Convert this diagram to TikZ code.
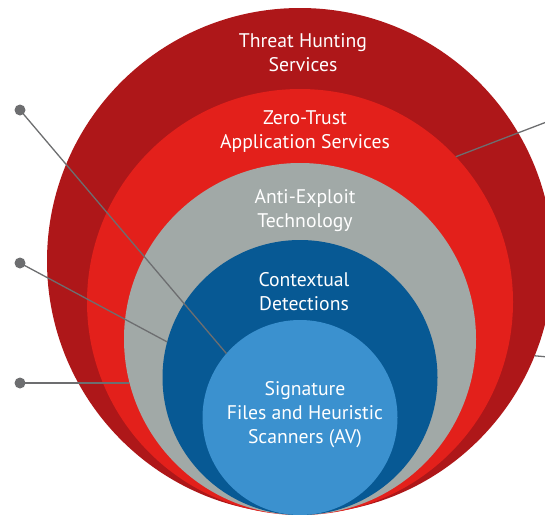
\documentclass[tikz,border=0pt]{standalone}
\usepackage{fontspec}
\setmainfont{PT Sans}
\definecolor{ringA}{HTML}{AE1719}
\definecolor{ringB}{HTML}{E3201B}
\definecolor{ringC}{HTML}{A1A9A7}
\definecolor{ringD}{HTML}{075994}
\definecolor{ringE}{HTML}{3B91CF}
\definecolor{wire}{HTML}{6D6E70}
\tikzset{
  ring/.style={circle,inner sep=0pt,outer sep=0pt,draw=none},
  lbl/.style={text=white,align=center,font=\fontsize{19.7}{24}\selectfont,inner sep=0pt},
  pin/.style={circle,fill=wire,inner sep=0pt,minimum size=11pt,draw=none},
  wireline/.style={draw=wire,line width=1.3pt}
}
\begin{document}
\begin{tikzpicture}[x=1pt,y=-1pt]
\useasboundingbox (0,0) rectangle (545,514);
\clip (0,0) rectangle (545,514);
\node[ring,fill=ringA,minimum size=506pt] (c1) at (300,261) {};
\node[ring,fill=ringB,minimum size=426pt] (c2) at (300,302) {};
\node[ring,fill=ringC,minimum size=352pt] (c3) at (300,339) {};
\node[ring,fill=ringD,minimum size=275pt] (c4) at (300,377.5) {};
\node[ring,fill=ringE,minimum size=195pt] (c5) at (300,417.5) {};
\node[lbl] (t1) at (303,53) {Threat Hunting\\Services};
\node[lbl] (t2) at (305,132) {Zero-Trust\\Application Services};
\node[lbl] (t3) at (305,211) {Anti-Exploit\\Technology};
\node[lbl] (t4) at (304,292) {Contextual\\Detections};
\node[lbl] (t5) at (305,415) {Signature\\Files and Heuristic\\Scanners (AV)};
\node[pin] (p1) at (20,110) {};
\node[pin] (p2) at (20,263) {};
\node[pin] (p3) at (20,383) {};
\coordinate (q1) at (570,113);
\coordinate (q2) at (570,359);
\draw[wireline] (p1.center) -- (c5.139);
\draw[wireline] (p2.center) -- (c4.165.5);
\draw[wireline] (p3.center) -- (p3.center -| c3.194.48);
\draw[wireline] (c2.43.5) -- (q1);
\draw[wireline] (c1.-22) -- (q2);
\end{tikzpicture}
\end{document}
